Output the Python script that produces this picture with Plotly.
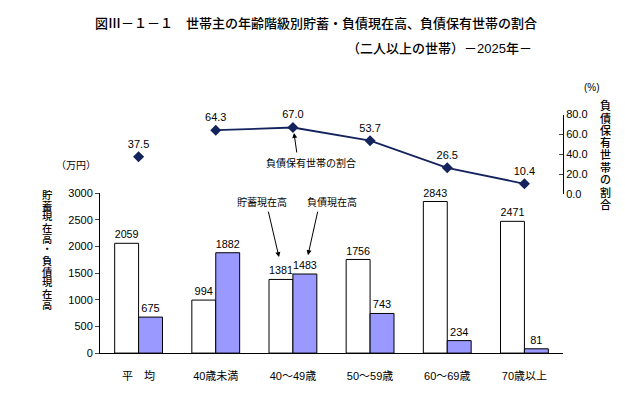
import plotly.graph_objects as go

categories = ["平　均", "40歳未満", "40～49歳", "50～59歳", "60～69歳", "70歳以上"]
savings = [2059, 994, 1381, 1756, 2843, 2471]
debts = [675, 1882, 1483, 743, 234, 81]
debt_ratio = [37.5, 64.3, 67.0, 53.7, 26.5, 10.4]
left_ticks = [0, 500, 1000, 1500, 2000, 2500, 3000]
right_ticks = [0, 20, 40, 60, 80]

W, H = 625, 394
ML, MR, MT, MB = 100, 62, 0, 0
PW, PH = W - ML - MR, H - MT - MB

FONT = "Liberation Sans, Arial, Noto Sans CJK JP"
BLUE = "#9999FF"
NAVY = "#14235E"


def px(x, y):
    return (x - ML) / PW, (H - MB - y) / PH


fig = go.Figure()

fig.add_trace(go.Bar(
    x=categories, y=savings, name="貯蓄現在高",
    marker=dict(color="white", line=dict(color="black", width=1)),
    text=savings, textposition="outside", cliponaxis=False,
    textfont=dict(size=11, color="black"),
    xaxis="x", yaxis="y",
))
fig.add_trace(go.Bar(
    x=categories, y=debts, name="負債現在高",
    marker=dict(color=BLUE, line=dict(color="black", width=1)),
    text=debts, textposition="outside", cliponaxis=False,
    textfont=dict(size=11, color="black"),
    xaxis="x", yaxis="y",
))
fig.add_trace(go.Scatter(
    x=categories[:1], y=debt_ratio[:1], mode="markers+text",
    marker=dict(symbol="diamond", size=8.5, color=NAVY),
    text=[f"{v:.1f}" for v in debt_ratio[:1]], textposition="top center",
    textfont=dict(size=11, color="black"), cliponaxis=False,
    xaxis="x2", yaxis="y2",
))
fig.add_trace(go.Scatter(
    x=categories[1:], y=debt_ratio[1:], mode="lines+markers+text",
    line=dict(color=NAVY, width=1.8),
    marker=dict(symbol="diamond", size=8.5, color=NAVY),
    text=[f"{v:.1f}" for v in debt_ratio[1:]], textposition="top center",
    textfont=dict(size=11, color="black"), cliponaxis=False,
    xaxis="x2", yaxis="y2",
))

b0, b1 = px(0, 358)[1], px(0, 193)[1]
t0, t1 = px(0, 194)[1], px(0, 112)[1]

fig.update_layout(
    width=W, height=H,
    margin=dict(l=ML, r=MR, t=MT, b=MB),
    paper_bgcolor="white", plot_bgcolor="rgba(0,0,0,0)",
    font=dict(family=FONT, size=11, color="black"),
    showlegend=False,
    barmode="group", bargap=0.38, bargroupgap=0,
    xaxis=dict(domain=[0, 1], anchor="y", range=[-0.5, 5.5],
               showline=True, linecolor="black", linewidth=1,
               ticks="", showgrid=False, tickfont=dict(size=11),
               ticklabelstandoff=13),
    yaxis=dict(domain=[b0, b1], anchor="x", range=[0, 3000],
               tickvals=left_ticks, ticks="outside", ticklen=4,
               showline=True, linecolor="black", linewidth=1,
               showgrid=False, zeroline=False, tickfont=dict(size=11)),
    xaxis2=dict(domain=[0, 1], anchor="y2", matches="x", visible=False),
    yaxis2=dict(domain=[t0, t1], anchor="x2", side="right", range=[0, 80],
                tickvals=right_ticks, tickformat=".1f", ticks="inside",
                ticklen=4, showline=True, linecolor="black", linewidth=1,
                showgrid=False, zeroline=False, tickfont=dict(size=11)),
)

ann = []


def text_at(x, y, s, size=10, xanchor="center", yanchor="middle", weight="normal"):
    ax_, ay_ = px(x, y)
    ann.append(dict(x=ax_, y=ay_, xref="paper", yref="paper", text=s,
                    showarrow=False, xanchor=xanchor, yanchor=yanchor,
                    font=dict(size=size, family=FONT, color="black", weight=weight)))


def vertical(x, y_first, step, s, size, weight="normal"):
    for i, ch in enumerate(s):
        text_at(x, y_first + i * step, ch, size=size, weight=weight)


def arrow(hx, hy, tx, ty):
    ax_, ay_ = px(hx, hy)
    ann.append(dict(x=ax_, y=ay_, xref="paper", yref="paper", text="",
                    showarrow=True, ax=tx - hx, ay=ty - hy,
                    arrowhead=2, arrowsize=1, arrowwidth=1,
                    arrowcolor="black"))


text_at(316, 18, "図Ⅲ－１－１　世帯主の年齢階級別貯蓄・負債現在高、負債保有世帯の割合", size=13, weight=500)
text_at(534, 44, "（二人以上の世帯）－2025年－", size=13, xanchor="right", weight=500)
text_at(592, 84, "(%)", size=10)
vertical(605, 103, 12.75, "負債保有世帯の割合", 11, weight=500)
text_at(76, 164, "（万円）", size=10)
vertical(47, 195, 11.3, "貯蓄現在高・負債現在高", 10.3, weight=500)
text_at(311, 162, "負債保有世帯の割合", size=10)
text_at(262, 202, "貯蓄現在高", size=10)
text_at(332, 202, "負債現在高", size=10)
arrow(294, 131, 297, 152)
arrow(279, 259, 268, 212)
arrow(308, 257, 318, 212)

fig.update_layout(annotations=ann)
fig.write_html("out.html")
